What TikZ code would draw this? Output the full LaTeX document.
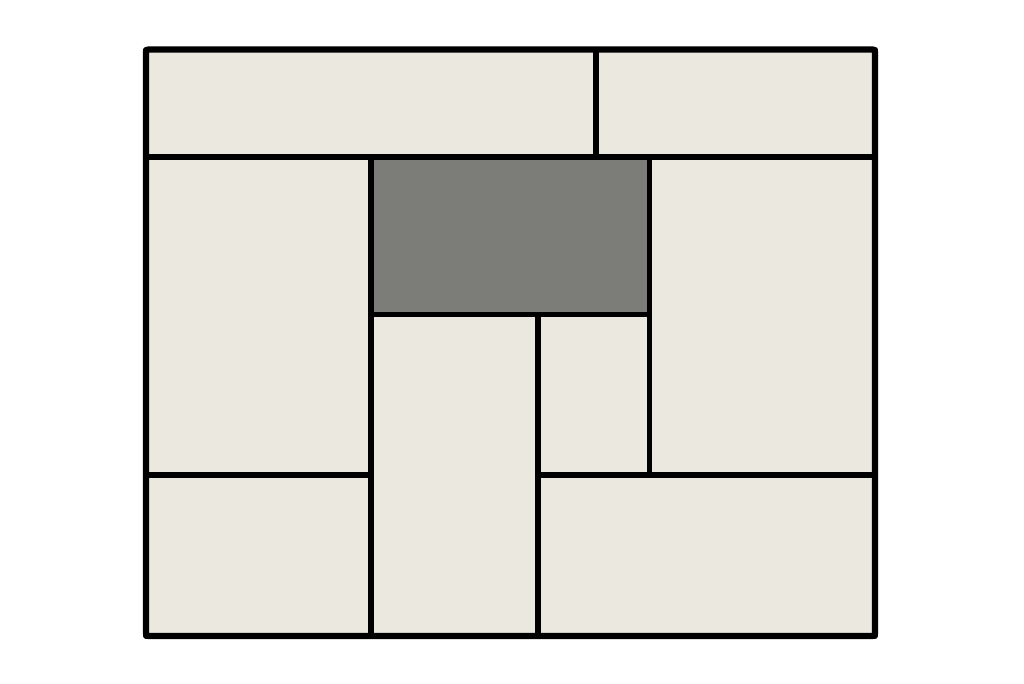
\documentclass[tikz,border=0pt]{standalone}
\begin{document}
\begin{tikzpicture}[x=0.75pt,y=-0.75pt,
  mat/.style={fill=matfill,draw=black,line width=3.8pt,line join=round},
  hole/.style={fill=holefill,draw=black,line width=3.8pt,line join=round},
  frame/.style={draw=black,line width=4.6pt,line join=round,rounded corners=1.5pt}]
\definecolor{matfill}{HTML}{EBE8E0}
\definecolor{holefill}{HTML}{7C7C78}
\useasboundingbox[fill=white] (0,0) rectangle (1024,683);
% top row
\draw[mat] (146,49.5) rectangle (596,157);
\draw[mat] (596,49.5) rectangle (875,157);
% left column
\draw[mat] (146,157) rectangle (371,475);
\draw[mat] (146,475) rectangle (371,636);
% centre hole
\draw[hole] (371,157) rectangle (649.5,314.5);
% middle
\draw[mat] (371,314.5) rectangle (538,636);
\draw[mat] (538,314.5) rectangle (649.5,475);
% right
\draw[mat] (649.5,157) rectangle (875,475);
\draw[mat] (538,475) rectangle (875,636);
% outer frame
\draw[frame] (146,49.5) rectangle (875,636);
\end{tikzpicture}
\end{document}
